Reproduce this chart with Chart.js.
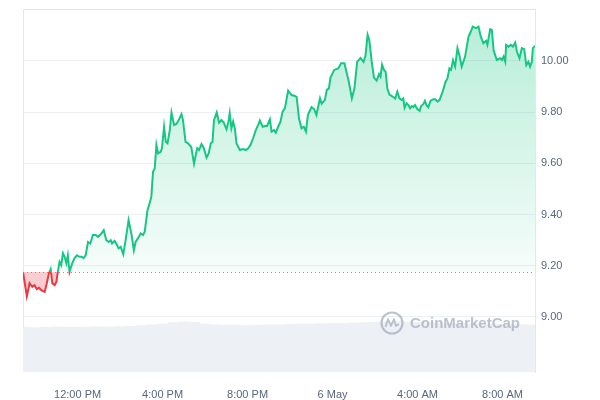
<!DOCTYPE html>
<html><head><meta charset="utf-8">
<script src="https://cdn.jsdelivr.net/npm/chart.js@4.4.0/dist/chart.umd.min.js"></script>
<style>html,body{margin:0;padding:0;background:#fff}#wrap{width:600px;height:400px}</style>
</head><body><div id="wrap"><canvas id="c" width="600" height="400"></canvas></div>
<script>
// Time in hours since 00:00 on 5 May (values > 24 are on 6 May)
const times = [9.43,9.61,9.74,9.87,9.97,10.08,10.18,10.29,10.45,10.55,10.65,10.73,10.81,10.92,11.00,11.07,11.15,11.23,11.31,11.39,11.47,11.54,11.62,11.75,11.86,11.97,12.09,12.19,12.28,12.38,12.49,12.60,12.72,12.85,12.96,13.12,13.23,13.35,13.46,13.56,13.62,13.74,13.82,13.93,14.03,14.15,14.26,14.40,14.53,14.65,14.73,14.84,14.97,15.08,15.16,15.29,15.39,15.47,15.55,15.63,15.71,15.79,15.91,15.97,16.07,16.15,16.23,16.34,16.42,16.54,16.65,16.76,16.89,16.96,17.08,17.20,17.35,17.48,17.56,17.63,17.72,17.83,17.94,18.07,18.17,18.27,18.35,18.42,18.55,18.66,18.77,18.88,19.01,19.10,19.16,19.24,19.32,19.40,19.48,19.64,19.79,19.92,20.03,20.14,20.26,20.39,20.50,20.58,20.71,20.81,20.92,21.05,21.13,21.24,21.33,21.44,21.55,21.65,21.76,21.91,22.07,22.23,22.31,22.42,22.54,22.65,22.75,22.84,23.01,23.14,23.24,23.41,23.49,23.64,23.73,23.83,23.90,24.08,24.27,24.40,24.56,24.67,24.77,24.91,25.03,25.16,25.32,25.46,25.55,25.65,25.73,25.84,25.95,26.08,26.19,26.26,26.33,26.42,26.50,26.58,26.68,26.83,26.95,27.05,27.15,27.26,27.33,27.39,27.49,27.57,27.65,27.73,27.80,27.88,27.99,28.10,28.17,28.28,28.35,28.43,28.51,28.61,28.72,28.82,28.94,29.04,29.18,29.32,29.41,29.50,29.58,29.67,29.77,29.88,29.97,30.08,30.24,30.40,30.51,30.60,30.76,30.87,30.98,31.10,31.23,31.29,31.42,31.50,31.58,31.73,31.89,31.97,32.05,32.13,32.17,32.28,32.39,32.49,32.60,32.68,32.80,32.91,33.02,33.12,33.22,33.30,33.38,33.43,33.53];
const prices = [9.176,9.081,9.132,9.118,9.124,9.109,9.114,9.105,9.098,9.132,9.171,9.187,9.132,9.124,9.137,9.176,9.215,9.202,9.249,9.235,9.210,9.241,9.176,9.210,9.230,9.241,9.235,9.235,9.230,9.241,9.293,9.287,9.320,9.320,9.313,9.326,9.339,9.300,9.293,9.300,9.287,9.297,9.287,9.268,9.274,9.245,9.300,9.378,9.326,9.261,9.293,9.307,9.326,9.320,9.333,9.417,9.444,9.469,9.567,9.580,9.672,9.639,9.645,9.659,9.743,9.684,9.678,9.730,9.798,9.750,9.754,9.769,9.792,9.769,9.684,9.678,9.664,9.599,9.632,9.659,9.652,9.675,9.659,9.623,9.639,9.678,9.684,9.769,9.799,9.759,9.769,9.759,9.733,9.763,9.796,9.737,9.763,9.737,9.678,9.652,9.656,9.652,9.659,9.672,9.698,9.730,9.750,9.767,9.743,9.746,9.746,9.772,9.724,9.730,9.720,9.743,9.763,9.802,9.816,9.884,9.867,9.863,9.860,9.776,9.737,9.743,9.724,9.789,9.820,9.811,9.789,9.854,9.833,9.848,9.887,9.893,9.934,9.965,9.971,9.991,9.991,9.952,9.918,9.854,9.892,9.997,10.011,9.996,10.020,10.102,10.082,10.000,9.935,9.923,9.949,9.939,9.986,9.965,9.958,9.891,9.869,9.861,9.853,9.880,9.854,9.848,9.854,9.817,9.835,9.828,9.815,9.824,9.820,9.828,9.812,9.805,9.824,9.832,9.844,9.826,9.819,9.844,9.850,9.851,9.841,9.848,9.879,9.919,9.932,9.971,9.965,10.003,9.978,10.050,10.023,9.978,10.017,10.095,10.115,10.134,10.128,10.134,10.095,10.069,10.079,10.063,10.124,10.121,10.043,10.004,10.011,10.004,10.017,9.997,10.063,10.056,10.063,10.056,10.072,10.036,10.011,10.050,10.046,9.984,9.997,9.978,9.997,10.050,10.059];
const volTimes = [9.5,10,10.5,11,11.5,12,12.5,13,13.5,14,14.5,15,15.5,16,16.5,17,17.5,18,18.5,19,19.5,20,20.5,21,21.5,22,22.5,23,23.5,24,24.5,25,25.5,26,26.5,27,27.5,28,28.5,29,29.5,30,30.5,31,31.5,32,32.5,33,33.5];
const volumes = [12.3,12.2,12.3,12.4,12.3,12.3,12.4,12.5,12.4,12.5,12.6,12.8,13.0,13.2,13.6,13.8,13.7,13.2,13.0,12.9,12.9,12.8,12.9,13.0,13.0,13.1,13.2,13.2,13.3,13.4,13.4,13.5,13.6,13.7,13.8,13.9,13.8,13.7,13.6,13.5,13.4,13.3,13.3,13.2,13.2,13.1,13.1,13.0,13.0];
const yTickValues = [9.0,9.2,9.4,9.6,9.8,10.0];
const xTickHours = [12,16,20,24,28,32];
const xTickLabels = ['12:00 PM','4:00 PM','8:00 PM','6 May','4:00 AM','8:00 AM'];
const baseline = prices[0];

const GREEN = '#16c784', RED = '#ea3943';

function basePos(chart){
  const a = chart.chartArea, y = chart.scales.y;
  const p = y.getPixelForValue(baseline);
  return Math.min(1, Math.max(0, (p - a.top) / (a.bottom - a.top)));
}
function lineColor(ctx){
  const chart = ctx.chart; const a = chart.chartArea;
  if (!a) return GREEN;
  const f = basePos(chart);
  const g = chart.ctx.createLinearGradient(0, a.top, 0, a.bottom);
  g.addColorStop(0, GREEN); g.addColorStop(f, GREEN);
  g.addColorStop(f, RED); g.addColorStop(1, RED);
  return g;
}
function fillColor(ctx){
  const chart = ctx.chart; const a = chart.chartArea;
  if (!a) return 'rgba(22,199,132,0.2)';
  const bp = chart.scales.y.getPixelForValue(baseline);
  const g = chart.ctx.createLinearGradient(0, a.top, 0, bp);
  g.addColorStop(0, 'rgba(22,199,132,0.32)');
  g.addColorStop(1, 'rgba(22,199,132,0.04)');
  return g;
}

const decor = {
  id: 'decor',
  beforeDatasetsDraw(chart){
    const {ctx, chartArea: a} = chart;
    ctx.save();
    ctx.strokeStyle = '#e4e7ec'; ctx.lineWidth = 1;
    ctx.beginPath();
    ctx.moveTo(Math.round(a.left) + 0.5, a.bottom);
    ctx.lineTo(Math.round(a.left) + 0.5, Math.round(a.top) + 0.5);
    ctx.lineTo(a.right, Math.round(a.top) + 0.5);
    ctx.stroke();
    ctx.restore();
  },
  afterDatasetsDraw(chart){
    const {ctx, chartArea: a} = chart;
    const by = Math.round(chart.scales.y.getPixelForValue(baseline)) + 0.5;
    ctx.save();
    ctx.strokeStyle = '#8e96a6'; ctx.lineWidth = 1;
    ctx.setLineDash([1, 3]);
    ctx.beginPath(); ctx.moveTo(a.left, by); ctx.lineTo(a.right, by); ctx.stroke();
    ctx.setLineDash([]);
    // watermark
    const cx = 392, cy = 323, r = 10.5;
    ctx.strokeStyle = 'rgba(165,174,190,0.75)'; ctx.lineWidth = 2.2;
    ctx.beginPath(); ctx.arc(cx, cy, r, 0, Math.PI * 2); ctx.stroke();
    ctx.lineWidth = 1.8; ctx.lineJoin = 'round';
    ctx.beginPath();
    ctx.moveTo(cx - 6.5, cy + 4);
    ctx.lineTo(cx - 4, cy - 4);
    ctx.lineTo(cx - 1, cy + 3);
    ctx.lineTo(cx + 2, cy - 4);
    ctx.lineTo(cx + 4, cy + 3);
    ctx.lineTo(cx + 7, cy + 1);
    ctx.stroke();
    ctx.fillStyle = 'rgba(165,174,190,0.75)';
    ctx.font = 'bold 15px "Liberation Sans", Arial, sans-serif';
    ctx.textBaseline = 'middle';
    ctx.fillText('CoinMarketCap', 410, cy + 1);
    ctx.restore();
  }
};

Chart.defaults.font.family = '"Liberation Sans", Arial, sans-serif';
Chart.defaults.font.size = 11;
Chart.defaults.color = '#58667e';

new Chart(document.getElementById('c'), {
  type: 'line',
  data: {
    datasets: [
      {
        type: 'line',
        data: times.map((t, i) => ({x: t, y: prices[i]})),
        borderColor: lineColor,
        backgroundColor: fillColor,
        borderWidth: 2,
        pointRadius: 0,
        tension: 0,
        fill: {target: {value: baseline}, below: 'rgba(234,57,67,0.25)'},
        order: 0,
        yAxisID: 'y'
      },
      {
        type: 'bar',
        data: volTimes.map((t, i) => ({x: t, y: volumes[i]})),
        backgroundColor: '#edf0f4',
        borderWidth: 0,
        barPercentage: 1,
        categoryPercentage: 1,
        order: 1,
        yAxisID: 'yv'
      }
    ]
  },
  options: {
    responsive: false,
    animation: false,
    devicePixelRatio: 1,
    layout: {padding: {left: 23, top: 9, right: 0, bottom: 0}},
    plugins: {legend: {display: false}, tooltip: {enabled: false}},
    scales: {
      x: {
        type: 'linear',
        min: times[0],
        max: times[times.length - 1],
        offset: false,
        grid: {display: false, drawTicks: false},
        border: {display: false},
        afterBuildTicks: s => { s.ticks = xTickHours.map(v => ({value: v})); },
        afterFit: s => { s.height = 28; s.paddingLeft = 0; s.paddingRight = 0; },
        ticks: {
          autoSkip: false, maxRotation: 0, padding: 16, color: '#58667e',
          callback: (v, i) => xTickLabels[i]
        }
      },
      y: {
        type: 'linear',
        position: 'right',
        min: 8.785,
        max: 10.203,
        grid: {color: '#eceff3', drawTicks: false},
        border: {display: true, color: '#e4e7ec'},
        afterBuildTicks: s => { s.ticks = yTickValues.map(v => ({value: v})); },
        afterFit: s => { s.width = 65; s.paddingTop = 0; s.paddingBottom = 0; },
        ticks: {padding: 6, color: '#58667e', callback: v => Number(v).toFixed(2)}
      },
      yv: {
        type: 'linear',
        display: false,
        min: 0,
        max: 100
      }
    }
  },
  plugins: [decor]
});
</script>
</body></html>
